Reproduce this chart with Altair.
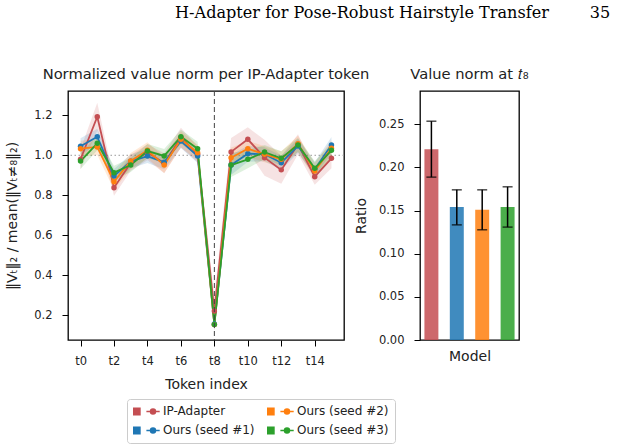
import altair as alt
import pandas as pd

# Models compared (legend order) and their colours
models = ["IP-Adapter", "Ours (seed #1)", "Ours (seed #2)", "Ours (seed #3)"]
colors = ["#c44e52", "#1f77b4", "#ff7f0e", "#2ca02c"]

# Token positions t0..t15
tokens = [0, 1, 2, 3, 4, 5, 6, 7, 8, 9, 10, 11, 12, 13, 14, 15]

# Normalized value norm per token (mean over samples)
norm_ip = [0.980, 1.193, 0.838, 0.962, 1.015, 0.960, 1.088, 1.005, 0.220, 1.017, 1.080, 0.988, 0.927, 1.055, 0.893, 0.985]
norm_s1 = [1.045, 1.093, 0.896, 0.970, 0.996, 0.965, 1.071, 0.996, 0.155, 0.951, 1.008, 1.005, 0.963, 1.047, 0.930, 1.052]
norm_s2 = [1.033, 1.042, 0.868, 0.972, 1.025, 0.951, 1.080, 1.013, 0.152, 0.988, 1.033, 1.005, 0.980, 1.058, 0.921, 1.035]
norm_s3 = [0.971, 1.060, 0.913, 0.951, 1.021, 0.997, 1.093, 1.033, 0.152, 0.951, 0.980, 1.016, 0.985, 1.052, 0.935, 1.025]

# Half-width of the shaded confidence band per token
spread_ip = [0.05, 0.07, 0.04, 0.04, 0.04, 0.05, 0.05, 0.04, 0.07, 0.07, 0.06, 0.09, 0.07, 0.05, 0.04, 0.05]
spread_s1 = [0.04, 0.04, 0.035, 0.035, 0.035, 0.035, 0.035, 0.035, 0.03, 0.05, 0.04, 0.035, 0.035, 0.035, 0.035, 0.04]
spread_s2 = [0.04, 0.04, 0.04, 0.04, 0.04, 0.04, 0.04, 0.04, 0.03, 0.05, 0.04, 0.04, 0.04, 0.04, 0.04, 0.04]
spread_s3 = [0.04, 0.035, 0.035, 0.035, 0.035, 0.035, 0.035, 0.035, 0.03, 0.06, 0.045, 0.035, 0.035, 0.035, 0.035, 0.035]

# Value norm ratio at t8 with error-bar bounds
t8_ratio = [0.221, 0.154, 0.151, 0.154]
t8_low = [0.1887, 0.1334, 0.1277, 0.1308]
t8_high = [0.2535, 0.1740, 0.1740, 0.1775]

rows = []
for name, vals, spread in zip(models, [norm_ip, norm_s1, norm_s2, norm_s3],
                              [spread_ip, spread_s1, spread_s2, spread_s3]):
    for t, v, s in zip(tokens, vals, spread):
        rows.append({"model": name, "token": t, "norm": v, "lo": v - s, "hi": v + s})
line_df = pd.DataFrame(rows)

bar_df = pd.DataFrame({"model": models, "ratio": t8_ratio, "lo": t8_low, "hi": t8_high})

FONT = "DejaVu Sans"

# Legend symbol: a filled square followed by a short line with a dot
legend_symbol = ("M-1.05,-0.65L0.19,-0.65L0.19,0.65L-1.05,0.65Z "
                 "M1.48,0L4.14,0 "
                 "M3.3,0A0.5,0.5,0,1,1,2.3,0A0.5,0.5,0,1,1,3.3,0Z")

legend = alt.Legend(
    orient="none", legendX=59, legendY=308, columns=2,
    title=None, symbolType=legend_symbol, symbolSize=100, symbolOpacity=1,
    symbolStrokeWidth=1.5, labelFont=FONT, labelFontSize=12, labelColor="#222",
    labelOffset=18, columnPadding=9, rowPadding=5.4, padding=6,
    strokeColor="#cccccc", fillColor="white", cornerRadius=3,
)
color_scale = alt.Scale(domain=models, range=colors)

x_tok = alt.X("token:Q",
              scale=alt.Scale(domain=[-0.75, 15.75], nice=False, zero=False),
              axis=alt.Axis(values=[0, 2, 4, 6, 8, 10, 12, 14], labelOverlap=False,
                            labelFlush=False, labelPadding=9, titlePadding=11,
                            labelExpr="'t' + datum.value", title="Token index"))
y_norm_scale = alt.Scale(domain=[0.075, 1.322], nice=False, zero=False)
y_axis = alt.Axis(values=[0.2, 0.4, 0.6, 0.8, 1.0, 1.2], format=".1f",
                  labelFlush=False, labelOverlap=False, labelPadding=10,
                  titlePadding=14, title="‖Vₜ‖₂ / mean(‖Vₜ≠₈‖₂)")

base = alt.Chart(line_df).encode(
    x=x_tok, color=alt.Color("model:N", scale=color_scale, legend=legend))

bands = base.mark_area(opacity=0.16).encode(
    y=alt.Y("lo:Q", scale=y_norm_scale, axis=y_axis), y2="hi:Q")
lines = base.mark_line(strokeWidth=1.8).encode(
    y=alt.Y("norm:Q", scale=y_norm_scale, axis=y_axis))
dots = base.mark_circle(size=30, opacity=1).encode(
    y=alt.Y("norm:Q", scale=y_norm_scale, axis=y_axis))

# Reference lines: unit level and the t8 token
unit_rule = alt.Chart(pd.DataFrame({"norm": [1.0]})).mark_rule(
    color="#999999", strokeDash=[1.5, 2.5], strokeWidth=1).encode(
    y=alt.Y("norm:Q", scale=y_norm_scale, axis=y_axis))
t8_rule = alt.Chart(pd.DataFrame({"token": [8]})).mark_rule(
    color="#444444", strokeDash=[5, 3], strokeWidth=1).encode(x=x_tok)

left = alt.layer(unit_rule, bands, lines, dots, t8_rule).properties(
    width=276, height=249,
    title=alt.TitleParams("Normalized value norm per IP-Adapter token",
                          font=FONT, fontSize=14.7, fontWeight="normal",
                          color="#222", offset=9))

x_model = alt.X("model:N", sort=models,
                scale=alt.Scale(paddingInner=0.45, paddingOuter=0.174),
                axis=alt.Axis(title="Model", labels=False, ticks=False, titlePadding=9))
y_ratio = alt.Y("ratio:Q", scale=alt.Scale(domain=[0, 0.2885], nice=False),
                axis=alt.Axis(values=[0, 0.05, 0.10, 0.15, 0.20, 0.25],
                              labelFlush=False, labelOverlap=False, labelPadding=10,
                              titlePadding=10, format=".2f", title="Ratio"))

bars = alt.Chart(bar_df).mark_bar(opacity=0.85).encode(
    x=x_model, y=y_ratio, color=alt.Color("model:N", scale=color_scale, legend=legend))
err = alt.Chart(bar_df).mark_rule(color="black", strokeWidth=1.5).encode(
    x=x_model, y="lo:Q", y2="hi:Q")
cap_lo = alt.Chart(bar_df).mark_tick(color="black", size=10, thickness=1.5).encode(
    x=x_model, y="lo:Q")
cap_hi = alt.Chart(bar_df).mark_tick(color="black", size=10, thickness=1.5).encode(
    x=x_model, y="hi:Q")

right = alt.layer(bars, err, cap_lo, cap_hi).properties(
    width=99, height=249,
    title=alt.TitleParams("Value norm at 𝑡₈", font=FONT, fontSize=14.7,
                          fontWeight="normal", color="#222", offset=9))

chart = alt.hconcat(left, right, spacing=76, bounds="flush").properties(
    title=alt.TitleParams(
        "H-Adapter for Pose-Robust Hairstyle Transfer" + "\u00a0" * 8 + "35",
        font="DejaVu Serif", fontSize=16.1, fontWeight="normal", color="black",
        anchor="end", dx=81, offset=45),
    padding={"left": 5, "top": 5, "right": 2, "bottom": 5},
    background="white",
).configure_view(stroke="black", strokeWidth=1.3).configure_axis(
    grid=False, domain=False, labelFont=FONT, labelFontSize=11.5, labelColor="#222",
    titleFont=FONT, titleFontSize=14, titleFontWeight="normal", titleColor="#222",
    tickColor="black", tickSize=6, tickWidth=1,
)

chart.save("out.html", embed_options={"renderer": "svg", "actions": False})
